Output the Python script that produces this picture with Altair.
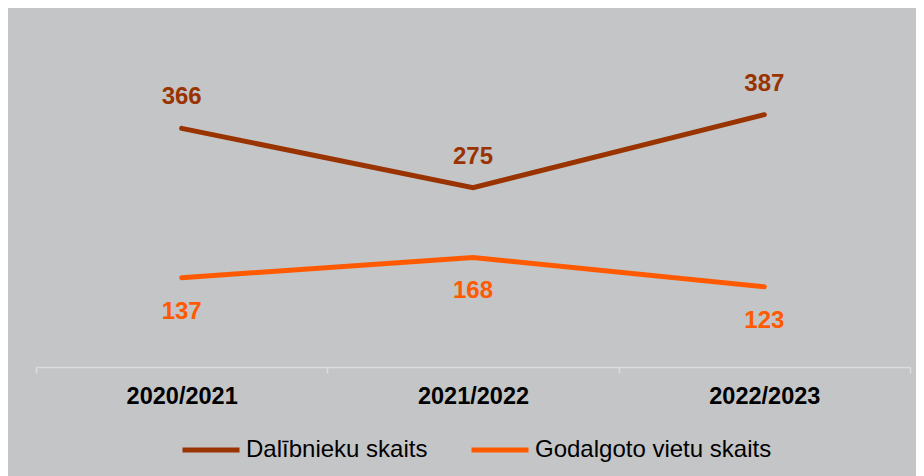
import altair as alt
import pandas as pd

seasons = ["2020/2021", "2021/2022", "2022/2023"]
participants = [366, 275, 387]
medals = [137, 168, 123]
series_names = ["Dalībnieku skaits", "Godalgoto vietu skaits"]
series_colors = ["#993300", "#FF5A00"]

rows = []
for s, v in zip(seasons, participants):
    rows.append({"season": s, "value": v, "series": series_names[0]})
for s, v in zip(seasons, medals):
    rows.append({"season": s, "value": v, "series": series_names[1]})
df = pd.DataFrame(rows)

FONT = "Liberation Sans"

x_enc = alt.X(
    "season:N",
    sort=seasons,
    scale=alt.Scale(type="band", paddingInner=0, paddingOuter=0),
    axis=alt.Axis(
        title=None,
        labelAngle=0,
        labelFont=FONT,
        labelFontSize=23.5,
        labelFontWeight="bold",
        labelColor="#000000",
        labelPadding=11,
        domainColor="#DCDCDC",
        domainWidth=1.5,
        tickColor="#DCDCDC",
        tickWidth=1.5,
        tickSize=6,
        tickBand="extent",
        grid=False,
    ),
)
y_enc = alt.Y("value:Q", scale=alt.Scale(domain=[0, 500]), axis=None)
color_enc = alt.Color(
    "series:N",
    scale=alt.Scale(domain=series_names, range=series_colors),
    legend=alt.Legend(
        title=None,
        orient="none",
        direction="horizontal",
        legendX=144,
        legendY=378,
        symbolType="stroke",
        symbolStrokeWidth=5,
        symbolSize=3249,
        labelFont=FONT,
        labelFontSize=24,
        labelColor="#000000",
        labelOffset=4,
        labelLimit=500,
        columnPadding=33,
        padding=0,
    ),
)

base = alt.Chart(df)

lines = base.mark_line(strokeWidth=5, strokeCap="round", strokeJoin="miter").encode(
    x=x_enc, y=y_enc, color=color_enc
)

labels_top = base.transform_filter(
    alt.datum.series == series_names[0]
).mark_text(
    font=FONT, fontSize=24, fontWeight="bold", baseline="alphabetic", align="center", dy=-24,
    color=series_colors[0]
).encode(x=x_enc, y=y_enc, text="value:Q")

labels_bottom = base.transform_filter(
    alt.datum.series == series_names[1]
).mark_text(
    font=FONT, fontSize=24, fontWeight="bold", baseline="alphabetic", align="center", dy=41,
    color=series_colors[1]
).encode(x=x_enc, y=y_enc, text="value:Q")

chart = alt.layer(lines, labels_top, labels_bottom).properties(
    width=874,
    height=326,
    background="#C4C5C7",
    padding={"left": 28, "top": 33, "right": 6, "bottom": 109},
    autosize=alt.AutoSizeParams(type="none"),
).configure_view(stroke=None)

chart.save("out.html", embed_options={"renderer": "svg", "actions": False})
